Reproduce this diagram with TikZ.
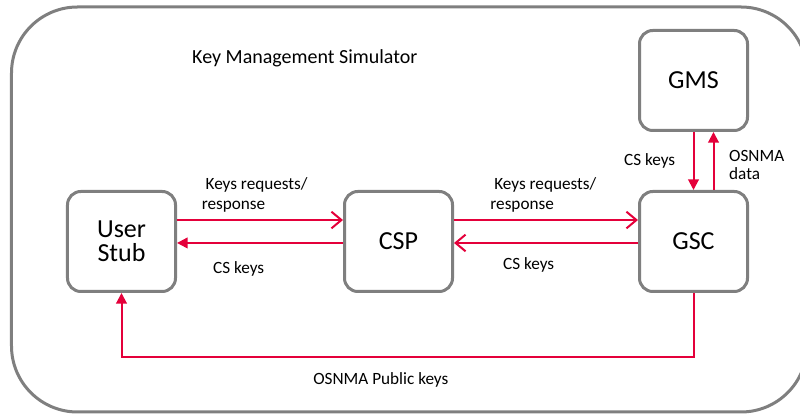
\documentclass[tikz,border=0pt]{standalone}
\usepackage{fontspec}
\setmainfont{Carlito}
\usetikzlibrary{arrows.meta,positioning}
\definecolor{framegray}{RGB}{127,127,127}
\definecolor{linkred}{RGB}{228,0,58}

\begin{document}
\begin{tikzpicture}[x=0.75pt, y=0.75pt, node distance=43.5pt and 124.5pt,
  block/.style={draw=framegray, line width=2.25pt, rounded corners=10pt, fill=white, align=center,
    minimum width=81pt, minimum height=75pt, font=\fontsize{19.5}{21}\selectfont},
  lbl/.style={font=\fontsize{12.9}{15}\selectfont, align=left, inner sep=2pt},
  openarrow/.style={-{Straight Barb[length=7.5pt, width=12.5pt, line width=1.5pt]}, line width=1.5pt, draw=linkred},
  fullarrow/.style={-{Triangle[length=8pt, width=8pt]}, line width=1.5pt, draw=linkred}]
\useasboundingbox (-121.5,-175.5) rectangle (678.5,241.5);
\draw[framegray, line width=2.25pt, rounded corners=49.5pt] (-110,-170.5) rectangle (685.5,234.5);
\node[font=\fontsize{15}{18}\selectfont, anchor=west] (title) at (66,183) {Key Management Simulator};
\node[block] (user) at (0,0) {User\\[-3pt]Stub};
\node[block, right=of user] (csp) {CSP};
\node[block, right=138pt of csp] (gsc) {GSC};
\node[block, above=of gsc] (gms) {GMS};
% requests and keys between the boxes
\draw[openarrow] ([yshift=16.1pt]user.east) -- node[lbl, above, xshift=-4pt, yshift=3pt] {\ Keys requests/\\response} ([yshift=16.1pt]csp.west);
\draw[fullarrow] ([yshift=-1.1pt]csp.west) -- node[lbl, below, xshift=-16pt, yshift=-11pt] {CS keys} ([yshift=-1.1pt]user.east);
\draw[openarrow] ([yshift=16.1pt]csp.east) -- node[lbl, above, xshift=-2pt, yshift=3pt] {\ Keys requests/\\response} ([yshift=16.1pt]gsc.west);
\draw[openarrow] ([yshift=-1.1pt]gsc.west) -- node[lbl, below, xshift=-13pt, yshift=-8pt] {CS keys} ([yshift=-1.1pt]csp.east);
\draw[fullarrow] (gms.south) -- node[lbl, left, xshift=-11pt] {CS keys} (gsc.north);
\draw[fullarrow] ([xshift=15pt]gsc.north) -- node[lbl, right, xshift=9pt, yshift=-3pt] {OSNMA\\[-2pt]data} ([xshift=15pt]gms.south);
\draw[fullarrow] (gsc.south) -- ++(0,-48pt) coordinate (turn) -| node[lbl, pos=0.25, below, xshift=-20pt, yshift=-9pt] {OSNMA Public keys} (user.south);
\end{tikzpicture}
\end{document}
